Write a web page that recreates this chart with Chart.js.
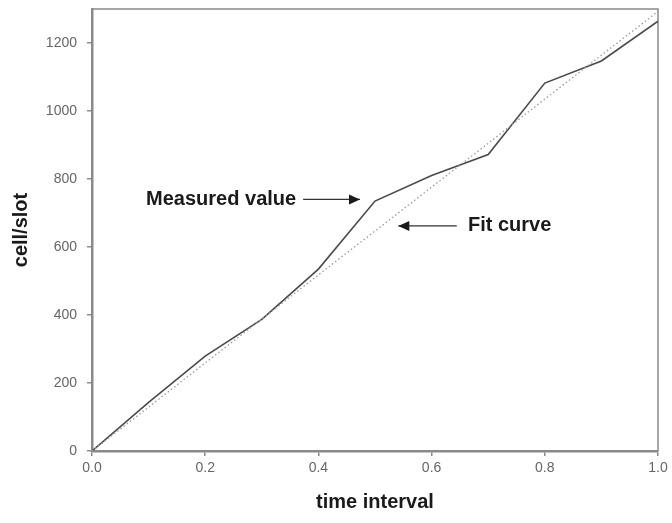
<!DOCTYPE html>
<html>
<head>
<meta charset="utf-8">
<script src="https://cdn.jsdelivr.net/npm/chart.js@4.4.1/dist/chart.umd.min.js"></script>
<style>
  html, body { margin: 0; padding: 0; background: #fff; }
  #wrap { width: 672px; height: 523px; position: relative; }
</style>
</head>
<body>
<div id="wrap"><canvas id="chart"></canvas></div>
<script>
// data
const timeValues = [0.0, 0.1, 0.2, 0.3, 0.4, 0.5, 0.6, 0.7, 0.8, 0.9, 1.0];
const measuredValues = [0, 143, 279, 387, 535, 735, 810, 872, 1082, 1147, 1264];
const fitValues = [0, 129, 259, 388, 518, 647, 776, 905, 1035, 1164, 1293];
const xTicks = [0.0, 0.2, 0.4, 0.6, 0.8, 1.0];
const yTicks = [0, 200, 400, 600, 800, 1000, 1200];

const boldFont = { family: 'Liberation Sans, Arial, sans-serif', size: 20, weight: 'bold' };
const tickFont = { family: 'Liberation Sans, Arial, sans-serif', size: 14 };

// text labels with arrows pointing at the lines
const annotationPlugin = {
    id: 'arrows',
    afterDraw(chart) {
        const ctx = chart.ctx;
        const xs = chart.scales.x, ys = chart.scales.y;
        const arrow = (x1, y1, x2, y2) => {
            ctx.beginPath();
            ctx.moveTo(x1, y1);
            ctx.lineTo(x2, y2);
            ctx.stroke();
            const dir = Math.sign(x2 - x1);
            ctx.beginPath();
            ctx.moveTo(x2, y2);
            ctx.lineTo(x2 - dir * 11, y2 - 5);
            ctx.lineTo(x2 - dir * 11, y2 + 5);
            ctx.closePath();
            ctx.fill();
        };
        ctx.save();
        ctx.strokeStyle = '#333';
        ctx.fillStyle = '#1a1a1a';
        ctx.lineWidth = 1.3;
        ctx.font = 'bold 20px "Liberation Sans", Arial, sans-serif';
        ctx.textBaseline = 'middle';

        // Measured value
        const my = ys.getPixelForValue(740);
        ctx.textAlign = 'right';
        ctx.fillText('Measured value', xs.getPixelForValue(0.3607), my);
        arrow(xs.getPixelForValue(0.373), my, xs.getPixelForValue(0.4735), my);

        // Fit curve
        const fy = ys.getPixelForValue(662);
        ctx.textAlign = 'left';
        ctx.fillText('Fit curve', xs.getPixelForValue(0.6643), fy);
        arrow(xs.getPixelForValue(0.6445), fy, xs.getPixelForValue(0.5412), fy);
        ctx.restore();
    }
};

// draw the top and right border of the plot box
const framePlugin = {
    id: 'frame',
    beforeDatasetsDraw(chart) {
        const { ctx, chartArea: a } = chart;
        ctx.save();
        ctx.strokeStyle = '#8a8a8a';
        ctx.lineWidth = 1.5;
        ctx.beginPath();
        ctx.moveTo(a.left, a.top);
        ctx.lineTo(a.right, a.top);
        ctx.lineTo(a.right, a.bottom);
        ctx.stroke();
        ctx.restore();
    }
};

new Chart(document.getElementById('chart'), {
    type: 'line',
    data: {
        datasets: [
            {
                label: 'Fit curve',
                data: timeValues.map((t, i) => ({ x: t, y: fitValues[i] })),
                borderColor: '#9a9a9a',
                borderWidth: 1.3,
                borderDash: [1.5, 2.5],
                pointRadius: 0,
                tension: 0
            },
            {
                label: 'Measured value',
                data: timeValues.map((t, i) => ({ x: t, y: measuredValues[i] })),
                borderColor: '#4a4a4a',
                borderWidth: 1.6,
                pointRadius: 0,
                tension: 0
            }
        ]
    },
    options: {
        responsive: true,
        maintainAspectRatio: false,
        animation: false,
        layout: { padding: { left: 0, right: 14, top: 9, bottom: 0 } },
        plugins: {
            legend: { display: false },
            tooltip: { enabled: false }
        },
        scales: {
            x: {
                type: 'linear',
                min: 0,
                max: 1,
                afterBuildTicks: (s) => { s.ticks = xTicks.map(v => ({ value: v })); },
                afterFit: (s) => {
                    s.height = 72;
                    s.paddingLeft = 0;
                    s.paddingRight = 0;
                },
                ticks: {
                    color: '#666',
                    font: tickFont,
                    padding: 4,
                    maxRotation: 0,
                    callback: (v) => v.toFixed(1)
                },
                grid: { drawOnChartArea: false, tickLength: 5, color: '#8a8a8a', lineWidth: 1.5 },
                border: { color: '#8a8a8a', width: 2.5 },
                title: { display: true, text: 'time interval', color: '#1a1a1a', font: boldFont, padding: { top: 0, bottom: 9 } }
            },
            y: {
                min: 0,
                max: 1300,
                afterBuildTicks: (s) => { s.ticks = yTicks.map(v => ({ value: v })); },
                afterFit: (s) => {
                    s.width = 92;
                    s.paddingTop = 0;
                    s.paddingBottom = 0;
                },
                ticks: {
                    color: '#666',
                    font: tickFont,
                    padding: 10,
                    callback: (v) => String(v)
                },
                grid: { drawOnChartArea: false, tickLength: 5, color: '#8a8a8a', lineWidth: 1.5 },
                border: { color: '#8a8a8a', width: 2.5 },
                title: { display: true, text: 'cell/slot', color: '#1a1a1a', font: boldFont, padding: { top: 9, bottom: 0 } }
            }
        }
    },
    plugins: [framePlugin, annotationPlugin]
});
</script>
</body>
</html>
